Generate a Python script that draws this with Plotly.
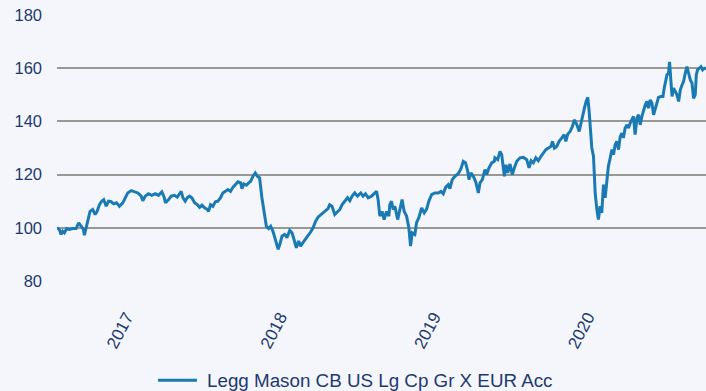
import plotly.graph_objects as go

# Fund price index (start = 100), time expressed in decimal years
years = [
    2016.522, 2016.537, 2016.549, 2016.559, 2016.570, 2016.585, 2016.603, 2016.624, 2016.646, 2016.663,
    2016.679, 2016.694, 2016.700, 2016.711, 2016.722, 2016.737, 2016.754, 2016.770, 2016.783, 2016.798,
    2016.813, 2016.826, 2016.842, 2016.857, 2016.874, 2016.891, 2016.909, 2016.928, 2016.950, 2016.965,
    2016.982, 2017.005, 2017.026, 2017.048, 2017.070, 2017.080, 2017.096, 2017.117, 2017.139, 2017.161,
    2017.182, 2017.204, 2017.217, 2017.228, 2017.248, 2017.265, 2017.287, 2017.304, 2017.319, 2017.330,
    2017.341, 2017.356, 2017.369, 2017.384, 2017.399, 2017.417, 2017.435, 2017.450, 2017.465, 2017.482,
    2017.500, 2017.508, 2017.521, 2017.536, 2017.552, 2017.569, 2017.586, 2017.601, 2017.617, 2017.634,
    2017.651, 2017.666, 2017.682, 2017.699, 2017.717, 2017.725, 2017.738, 2017.754, 2017.769, 2017.782,
    2017.797, 2017.812, 2017.825, 2017.840, 2017.855, 2017.873, 2017.884, 2017.899, 2017.912, 2017.927,
    2017.943, 2017.956, 2017.961, 2017.971, 2017.986, 2018.003, 2018.018, 2018.036, 2018.051, 2018.064,
    2018.079, 2018.094, 2018.107, 2018.122, 2018.138, 2018.155, 2018.173, 2018.188, 2018.203, 2018.220,
    2018.242, 2018.264, 2018.285, 2018.296, 2018.311, 2018.329, 2018.347, 2018.362, 2018.377, 2018.394,
    2018.412, 2018.427, 2018.442, 2018.459, 2018.477, 2018.498, 2018.513, 2018.529, 2018.546, 2018.568,
    2018.585, 2018.601, 2018.611, 2018.622, 2018.637, 2018.650, 2018.666, 2018.681, 2018.687, 2018.698,
    2018.709, 2018.720, 2018.738, 2018.752, 2018.767, 2018.780, 2018.796, 2018.811, 2018.822, 2018.833,
    2018.850, 2018.861, 2018.876, 2018.894, 2018.911, 2018.926, 2018.941, 2018.959, 2018.980, 2019.002,
    2019.020, 2019.035, 2019.050, 2019.067, 2019.078, 2019.093, 2019.111, 2019.132, 2019.150, 2019.165,
    2019.180, 2019.194, 2019.202, 2019.215, 2019.230, 2019.246, 2019.263, 2019.274, 2019.289, 2019.306,
    2019.317, 2019.332, 2019.350, 2019.367, 2019.371, 2019.389, 2019.404, 2019.415, 2019.425, 2019.432,
    2019.443, 2019.454, 2019.469, 2019.484, 2019.497, 2019.513, 2019.534, 2019.556, 2019.578, 2019.593,
    2019.606, 2019.621, 2019.637, 2019.653, 2019.671, 2019.686, 2019.702, 2019.719, 2019.736, 2019.745,
    2019.758, 2019.773, 2019.788, 2019.806, 2019.821, 2019.832, 2019.845, 2019.860, 2019.875, 2019.888,
    2019.904, 2019.919, 2019.932, 2019.940, 2019.953, 2019.964, 2019.975, 2019.984, 2019.992, 2020.001,
    2020.012, 2020.023, 2020.034, 2020.044, 2020.055, 2020.066, 2020.077, 2020.088, 2020.099, 2020.109,
    2020.121, 2020.132, 2020.142, 2020.153, 2020.164, 2020.175, 2020.186, 2020.197, 2020.207, 2020.218,
    2020.229, 2020.240, 2020.251, 2020.262, 2020.272, 2020.283, 2020.295, 2020.305, 2020.316, 2020.327,
    2020.338, 2020.349, 2020.360, 2020.370, 2020.381, 2020.392, 2020.403, 2020.414, 2020.425, 2020.435,
    2020.451, 2020.464, 2020.472, 2020.479, 2020.490, 2020.500, 2020.507, 2020.516, 2020.523, 2020.533,
    2020.544, 2020.555, 2020.566, 2020.577, 2020.588, 2020.598, 2020.609, 2020.620, 2020.631, 2020.642,
    2020.653, 2020.663, 2020.674, 2020.681, 2020.689, 2020.700, 2020.711, 2020.722, 2020.733, 2020.744,
]

prices = [
    100.0, 99.4, 97.5, 98.7, 98.1, 99.7, 99.4, 99.7, 99.7, 101.9,
    100.6, 99.4, 97.2, 100.0, 103.1, 106.2, 106.9, 105.0, 106.2, 108.7,
    110.0, 110.6, 108.1, 110.0, 109.8, 109.0, 109.4, 108.1, 109.4, 111.3,
    113.1, 114.0, 113.5, 113.1, 111.9, 110.2, 111.9, 112.8, 112.2, 112.8,
    112.2, 113.5, 111.9, 109.4, 110.6, 111.9, 112.2, 111.5, 112.8, 113.7,
    111.3, 110.0, 111.3, 111.9, 111.3, 109.4, 108.7, 107.7, 108.5, 107.5,
    106.9, 106.2, 108.7, 108.1, 109.8, 110.0, 111.3, 113.1, 113.7, 114.4,
    113.7, 115.2, 116.2, 117.3, 116.9, 114.7, 116.5, 116.0, 116.9, 117.5,
    119.4, 120.6, 119.4, 118.8, 111.3, 105.0, 100.6, 99.7, 100.6, 98.7,
    95.0, 93.1, 91.9, 93.7, 96.9, 97.5, 96.3, 99.0, 98.1, 95.6,
    92.5, 95.0, 93.1, 94.4, 95.6, 96.9, 98.5, 100.0, 102.3, 104.0,
    105.0, 106.2, 107.2, 108.7, 108.1, 105.0, 106.2, 106.9, 108.7, 110.0,
    111.3, 110.2, 111.9, 113.1, 111.9, 113.1, 111.9, 112.8, 111.3, 111.9,
    112.8, 113.7, 110.6, 104.4, 106.2, 103.1, 106.2, 104.4, 108.7, 110.0,
    106.9, 108.1, 103.1, 106.2, 110.6, 106.2, 104.4, 100.0, 93.1, 98.1,
    97.5, 101.9, 103.8, 107.5, 105.6, 106.9, 110.0, 112.5, 113.1, 113.1,
    113.7, 112.8, 115.2, 116.2, 114.7, 118.1, 119.4, 120.3, 122.2, 125.0,
    124.4, 121.2, 118.1, 120.6, 119.4, 117.3, 113.1, 116.9, 118.1, 121.9,
    120.0, 122.5, 124.4, 125.0, 126.3, 125.6, 128.7, 127.5, 123.7, 119.4,
    123.7, 120.6, 124.0, 120.0, 122.5, 125.0, 126.3, 126.5, 125.6, 122.5,
    125.2, 124.4, 126.3, 125.2, 126.9, 128.1, 129.4, 130.0, 130.6, 132.5,
    130.0, 130.6, 132.5, 133.8, 135.0, 132.5, 135.3, 136.2, 138.1, 140.6,
    138.7, 136.2, 140.0, 142.5, 145.0, 147.5, 149.0, 143.7, 136.2, 130.1,
    126.9, 113.1, 106.9, 103.1, 108.1, 105.6, 116.2, 111.3, 117.5, 123.1,
    126.3, 129.4, 127.5, 131.2, 132.5, 129.4, 134.3, 135.6, 133.8, 137.5,
    138.7, 137.5, 139.4, 140.6, 141.9, 135.0, 141.3, 142.5, 138.7, 141.9,
    144.4, 146.2, 147.5, 145.0, 148.1, 146.9, 142.5, 145.0, 147.5, 149.0,
    149.4, 149.4, 152.5, 155.0, 157.5, 158.1, 162.4, 155.0, 149.4, 152.5,
    151.2, 150.0, 147.5, 151.9, 153.7, 155.0, 158.1, 160.6, 158.1, 155.6,
    154.4, 148.7, 150.0, 157.5, 159.4, 160.0, 160.6, 159.4, 160.0, 159.7,
]

year_ticks = [2017, 2018, 2019, 2020]
year_labels = ["2017", "2018", "2019", "2020"]
value_ticks = [80, 100, 120, 140, 160, 180]

series_name = "Legg Mason CB US Lg Cp Gr X EUR Acc"

navy = "#1d3a70"
line_blue = "#1a7bb4"
grid_grey = "#9a9893"
bg = "#f4f6fb"

fig = go.Figure()
fig.add_trace(go.Scatter(
    x=years,
    y=prices,
    mode="lines",
    name=series_name,
    line=dict(color=line_blue, width=3),
    showlegend=False,
))

# Legend key drawn below the axis labels: a short line sample plus the series name
legend_y = -0.373
fig.add_shape(
    type="line", xref="paper", yref="paper",
    x0=0.1556, x1=0.2157, y0=legend_y, y1=legend_y,
    line=dict(color=line_blue, width=3),
)
fig.add_annotation(
    xref="paper", yref="paper",
    x=0.228, y=legend_y, xanchor="left", yanchor="middle",
    text=series_name, showarrow=False,
    font=dict(size=18.8, color=navy),
)

fig.update_layout(
    width=706,
    height=391,
    margin=dict(l=57, r=0, t=15, b=110),
    paper_bgcolor=bg,
    plot_bgcolor=bg,
    font=dict(family="Liberation Sans, Arial, sans-serif", color=navy, size=16),
    showlegend=False,
    xaxis=dict(
        range=[years[0], years[-1]],
        tickmode="array",
        tickvals=year_ticks,
        ticktext=year_labels,
        tickangle=-62,
        showgrid=False,
        zeroline=False,
        showline=False,
        ticks="",
        ticklabelstandoff=22,
        ticklabelshift=-4,
        tickfont=dict(size=17, color=navy),
    ),
    yaxis=dict(
        range=[80, 180],
        tickmode="array",
        tickvals=value_ticks,
        showgrid=True,
        gridcolor=grid_grey,
        gridwidth=1.6,
        zeroline=False,
        showline=False,
        ticks="",
        ticklabelstandoff=14,
        tickfont=dict(size=16.5, color=navy),
    ),
)

fig.write_html("out.html")
